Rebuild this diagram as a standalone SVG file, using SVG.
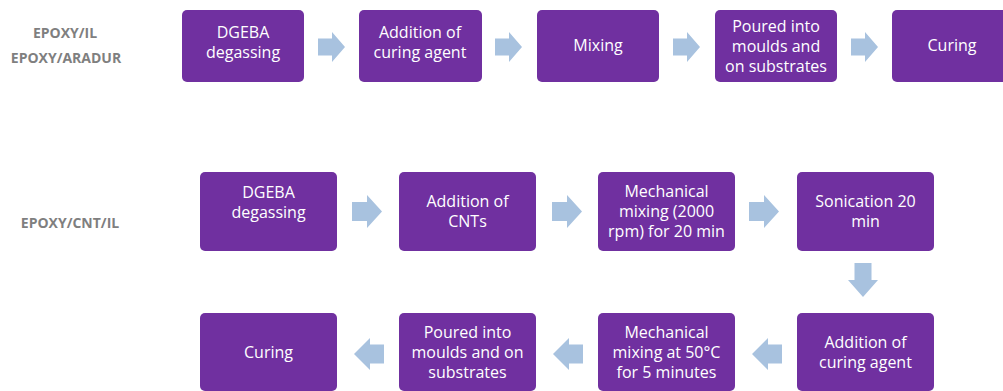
<svg xmlns="http://www.w3.org/2000/svg" width="1003" height="391" viewBox="0 0 1003 391">
  <style>
    .box { fill: #7030a0; }
    .txt { font-family: "Open Sans", "Liberation Sans", sans-serif; font-size: 16px; fill: #ffffff; text-anchor: middle; }
    .lbl { font-family: "Open Sans", "Liberation Sans", sans-serif; font-size: 14px; font-weight: bold; fill: #7f7f7f; text-anchor: middle; }
    .arr { fill: #a8c2df; }
  </style>
  <rect width="1003" height="391" fill="#ffffff"/>

  <!-- row labels -->
  <g id="labels">
    <text class="lbl" x="65" y="38">EPOXY/IL</text>
    <text class="lbl" x="66" y="63">EPOXY/ARADUR</text>
    <text class="lbl" x="70" y="228">EPOXY/CNT/IL</text>
  </g>

  <!-- process A -->
  <g id="a1"><rect class="box" x="182" y="10" width="122" height="72" rx="5"/>
    <text class="txt" x="243" y="38">DGEBA</text><text class="txt" x="243" y="58">degassing</text></g>
  <g id="a2"><rect class="box" x="359" y="10" width="123" height="72" rx="5"/>
    <text class="txt" x="420" y="38">Addition of</text><text class="txt" x="420" y="58">curing agent</text></g>
  <g id="a3"><rect class="box" x="537" y="10" width="122" height="72" rx="5"/>
    <text class="txt" x="598" y="51">Mixing</text></g>
  <g id="a4"><rect class="box" x="715" y="10" width="122" height="72" rx="5"/>
    <text class="txt" x="776" y="32">Poured into</text><text class="txt" x="776" y="52">moulds and</text><text class="txt" x="776" y="72">on substrates</text></g>
  <g id="a5"><rect class="box" x="892" y="10" width="122" height="72" rx="5"/>
    <text class="txt" x="952" y="51">Curing</text></g>

  <!-- process B, first row -->
  <g id="b1"><rect class="box" x="200" y="172" width="137" height="79" rx="5"/>
    <text class="txt" x="268.5" y="198">DGEBA</text><text class="txt" x="268.5" y="218">degassing</text></g>
  <g id="b2"><rect class="box" x="399" y="172" width="137" height="79" rx="5"/>
    <text class="txt" x="467.5" y="207">Addition of</text><text class="txt" x="467.5" y="227">CNTs</text></g>
  <g id="b3"><rect class="box" x="598" y="172" width="137" height="79" rx="5"/>
    <text class="txt" x="666.5" y="197">Mechanical</text><text class="txt" x="666.5" y="217">mixing (2000</text><text class="txt" x="666.5" y="237">rpm) for 20 min</text></g>
  <g id="b4"><rect class="box" x="797" y="172" width="137" height="79" rx="5"/>
    <text class="txt" x="865.5" y="207">Sonication 20</text><text class="txt" x="865.5" y="227">min</text></g>

  <!-- process B, second row -->
  <g id="b5"><rect class="box" x="797" y="313" width="137" height="78" rx="5"/>
    <text class="txt" x="865.5" y="348">Addition of</text><text class="txt" x="865.5" y="368">curing agent</text></g>
  <g id="b6"><rect class="box" x="598" y="313" width="137" height="78" rx="5"/>
    <text class="txt" x="666.5" y="338">Mechanical</text><text class="txt" x="666.5" y="358">mixing at 50°C</text><text class="txt" x="666.5" y="378">for 5 minutes</text></g>
  <g id="b7"><rect class="box" x="399" y="313" width="137" height="78" rx="5"/>
    <text class="txt" x="467.5" y="338">Poured into</text><text class="txt" x="467.5" y="358">moulds and on</text><text class="txt" x="467.5" y="378">substrates</text></g>
  <g id="b8"><rect class="box" x="200" y="313" width="137" height="78" rx="5"/>
    <text class="txt" x="268.5" y="358">Curing</text></g>

  <!-- block arrows -->
  <g id="connectors">
    <path class="arr" d="M318 38.5 H332 V32 L345 47 L332 62 V55.5 H318 Z"/>
    <path class="arr" d="M495 38.5 H509 V32 L522 47 L509 62 V55.5 H495 Z"/>
    <path class="arr" d="M673 38.5 H687 V32 L700 47 L687 62 V55.5 H673 Z"/>
    <path class="arr" d="M851 38.5 H865 V32 L878 47 L865 62 V55.5 H851 Z"/>

    <path class="arr" d="M352 202 H367 V195 L382 211.5 L367 228 V221 H352 Z"/>
    <path class="arr" d="M552 202 H567 V195 L582 211.5 L567 228 V221 H552 Z"/>
    <path class="arr" d="M749 202 H764 V195 L779 211.5 L764 228 V221 H749 Z"/>

    <path class="arr" d="M854.5 263 H871.5 V280 H878 L863 297 L848 280 H854.5 Z"/>

    <path class="arr" d="M782 344.5 H768 V338 L752 354 L768 370 V363.5 H782 Z"/>
    <path class="arr" d="M583 344.5 H569 V338 L553 354 L569 370 V363.5 H583 Z"/>
    <path class="arr" d="M384 344.5 H370 V338 L354 354 L370 370 V363.5 H384 Z"/>
  </g>
</svg>
